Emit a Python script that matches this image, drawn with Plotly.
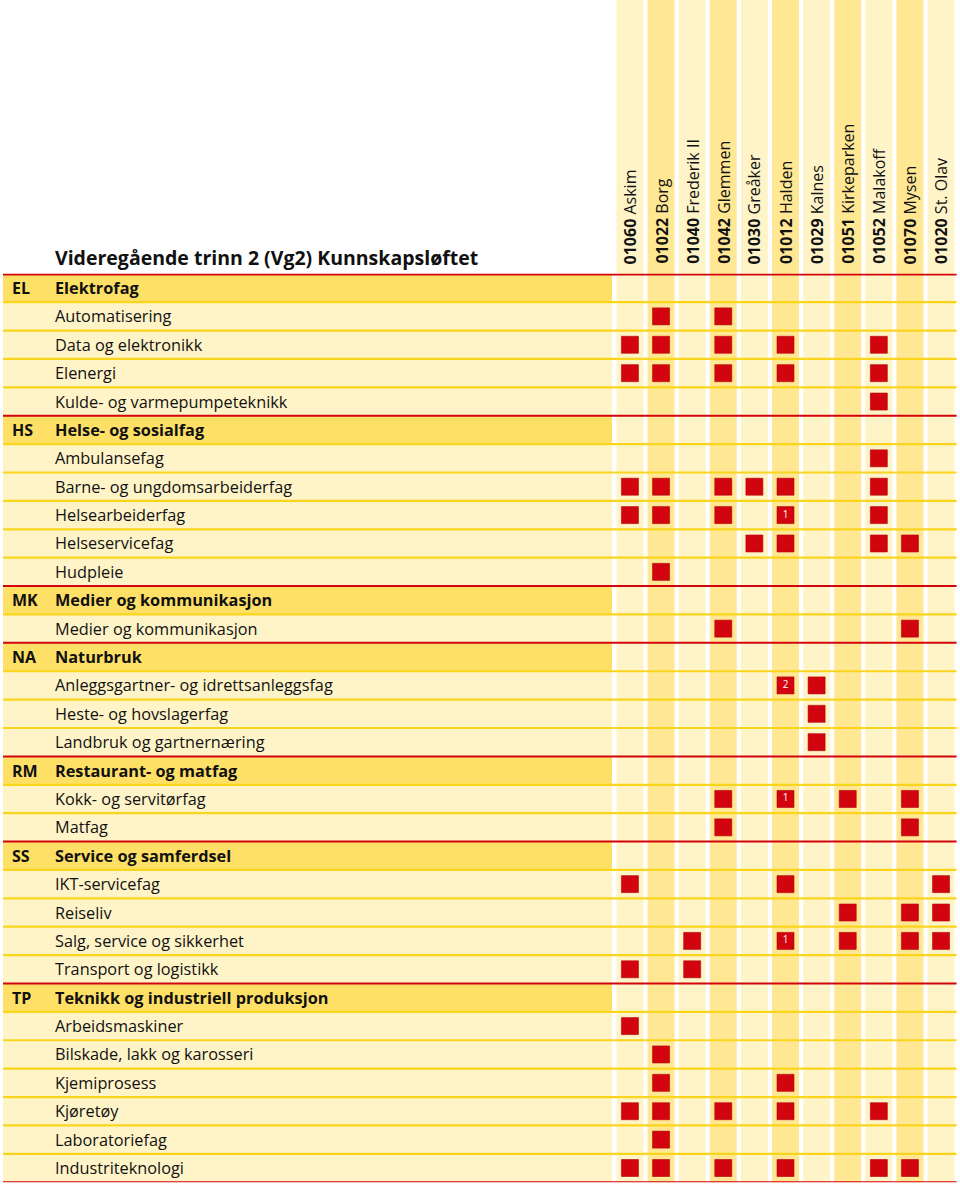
import plotly.graph_objects as go

W, H = 960, 1190

schools = ["01060 Askim", "01022 Borg", "01040 Frederik II", "01042 Glemmen", "01030 Greåker",
           "01012 Halden", "01029 Kalnes", "01051 Kirkeparken", "01052 Malakoff", "01070 Mysen",
           "01020 St. Olav"]
short = [s.split(" ", 1)[1] for s in schools]

row_codes = ["EL", "", "", "", "", "HS", "", "", "", "", "", "MK", "", "NA", "", "", "",
             "RM", "", "", "SS", "", "", "", "", "TP", "", "", "", "", "", ""]
row_labels = ["Elektrofag", "Automatisering", "Data og elektronikk", "Elenergi",
              "Kulde- og varmepumpeteknikk",
              "Helse- og sosialfag", "Ambulansefag", "Barne- og ungdomsarbeiderfag",
              "Helsearbeiderfag", "Helseservicefag", "Hudpleie",
              "Medier og kommunikasjon", "Medier og kommunikasjon",
              "Naturbruk", "Anleggsgartner- og idrettsanleggsfag", "Heste- og hovslagerfag",
              "Landbruk og gartnernæring",
              "Restaurant- og matfag", "Kokk- og servitørfag", "Matfag",
              "Service og samferdsel", "IKT-servicefag", "Reiseliv", "Salg, service og sikkerhet",
              "Transport og logistikk",
              "Teknikk og industriell produksjon", "Arbeidsmaskiner", "Bilskade, lakk og karosseri",
              "Kjemiprosess", "Kjøretøy", "Laboratoriefag", "Industriteknologi"]
is_group = [c != "" for c in row_codes]

# offerings per row: school short name, optional ":note"
offers = [
    [], ["Borg", "Glemmen"],
    ["Askim", "Borg", "Glemmen", "Halden", "Malakoff"],
    ["Askim", "Borg", "Glemmen", "Halden", "Malakoff"],
    ["Malakoff"],
    [], ["Malakoff"],
    ["Askim", "Borg", "Glemmen", "Greåker", "Halden", "Malakoff"],
    ["Askim", "Borg", "Glemmen", "Halden:1", "Malakoff"],
    ["Greåker", "Halden", "Malakoff", "Mysen"],
    ["Borg"],
    [], ["Glemmen", "Mysen"],
    [], ["Halden:2", "Kalnes"], ["Kalnes"], ["Kalnes"],
    [], ["Glemmen", "Halden:1", "Kirkeparken", "Mysen"], ["Glemmen", "Mysen"],
    [], ["Askim", "Halden", "St. Olav"], ["Kirkeparken", "Mysen", "St. Olav"],
    ["Frederik II", "Halden:1", "Kirkeparken", "Mysen", "St. Olav"], ["Askim", "Frederik II"],
    [], ["Askim"], ["Borg"], ["Borg", "Halden"],
    ["Askim", "Borg", "Glemmen", "Halden", "Malakoff"], ["Borg"],
    ["Askim", "Borg", "Glemmen", "Halden", "Malakoff", "Mysen"],
]

# colours
RED = "#D2050F"
YEL_LINE = "#FAD51E"
LIGHT = "#FFF4C8"
DARK = "#FFE793"
GROUP_BG = "#FFE066"
FONT = "Open Sans"

# geometry (pixels)
left_x0, left_x1 = 3, 612
col_left, col_right = 614.4, 956.6
row_top, row_bot = 273.8, 1182.2
n_rows = len(row_labels)

xs, ys, txt = [], [], []
for r, lst in enumerate(offers):
    for item in lst:
        name, _, note = item.partition(":")
        xs.append(schools[short.index(name)])
        ys.append(r)
        txt.append(note)

fig = go.Figure()
fig.add_trace(go.Scatter(
    x=xs, y=ys, mode="markers+text", text=txt, textposition="middle center",
    textfont=dict(color="white", size=10, family=FONT),
    marker=dict(symbol="square", size=17, color=RED, line=dict(color="#B0000A", width=0.6)),
    hoverinfo="skip", showlegend=False, cliponaxis=False))

shapes = []
ydom0 = 1 - row_bot / H
# column stripes
for j, s in enumerate(schools):
    shapes.append(dict(type="rect", xref="x", yref="paper", x0=j - 0.434, x1=j + 0.434,
                       y0=ydom0, y1=1, fillcolor=DARK if j % 2 else LIGHT,
                       line=dict(width=0), layer="below"))
# left backgrounds
for r in range(n_rows):
    shapes.append(dict(type="rect", xref="paper", yref="y", x0=left_x0 / W, x1=left_x1 / W,
                       y0=r - 0.5, y1=r + 0.5, fillcolor=GROUP_BG if is_group[r] else LIGHT,
                       line=dict(width=0), layer="below"))
# separators
for r in range(1, n_rows):
    red = is_group[r]
    shapes.append(dict(type="line", xref="paper", yref="y", x0=left_x0 / W, x1=col_right / W,
                       y0=r - 0.5, y1=r - 0.5,
                       line=dict(color=RED if red else YEL_LINE, width=2 if red else 2.2),
                       layer="below"))
shapes.append(dict(type="line", xref="paper", yref="y", x0=left_x0 / W, x1=col_right / W,
                   y0=-0.5, y1=-0.5, line=dict(color=RED, width=3.5), layer="below"))
shapes.append(dict(type="line", xref="paper", yref="y", x0=left_x0 / W, x1=col_right / W,
                   y0=n_rows - 0.5, y1=n_rows - 0.5, line=dict(color=RED, width=2), layer="below"))

ann = []
for r in range(n_rows):
    lab = row_labels[r]
    if is_group[r]:
        lab = "<b>" + lab + "</b>"
        ann.append(dict(x=10 / W, xref="paper", y=r, yref="y", xanchor="left", yanchor="middle",
                        text="<b>" + row_codes[r] + "</b>", showarrow=False,
                        font=dict(size=16, color="#111", family=FONT)))
    ann.append(dict(x=53 / W, xref="paper", y=r, yref="y", xanchor="left", yanchor="middle",
                    text=lab, showarrow=False, font=dict(size=16.3, color="#111", family=FONT)))

for j, s in enumerate(schools):
    code, name = s.split(" ", 1)
    ann.append(dict(x=s, xref="x", y=1 - 266 / H, yref="paper", xanchor="center", yanchor="bottom",
                    text="<b>" + code + "</b> " + name, textangle=-90, showarrow=False,
                    font=dict(size=16, color="#111", family=FONT)))

ann.append(dict(x=53 / W, xref="paper", y=1 - 257 / H, yref="paper", xanchor="left", yanchor="middle",
                text="<b>Videregående trinn 2 (Vg2) Kunnskapsløftet</b>", showarrow=False,
                font=dict(size=19.5, color="#111", family=FONT)))

fig.update_layout(
    width=W, height=H, margin=dict(l=0, r=0, t=0, b=0),
    paper_bgcolor="white", plot_bgcolor="rgba(0,0,0,0)",
    shapes=shapes, annotations=ann,
    xaxis=dict(domain=[col_left / W, col_right / W], type="category", categoryarray=schools,
               range=[-0.5, len(schools) - 0.5], visible=False, fixedrange=True),
    yaxis=dict(domain=[1 - row_bot / H, 1 - row_top / H], range=[n_rows - 0.5, -0.5],
               visible=False, fixedrange=True),
    font=dict(family=FONT),
)
fig.write_html("out.html", config={"displayModeBar": False},
               post_script="document.body.style.margin='0';document.body.style.overflow='hidden';")
